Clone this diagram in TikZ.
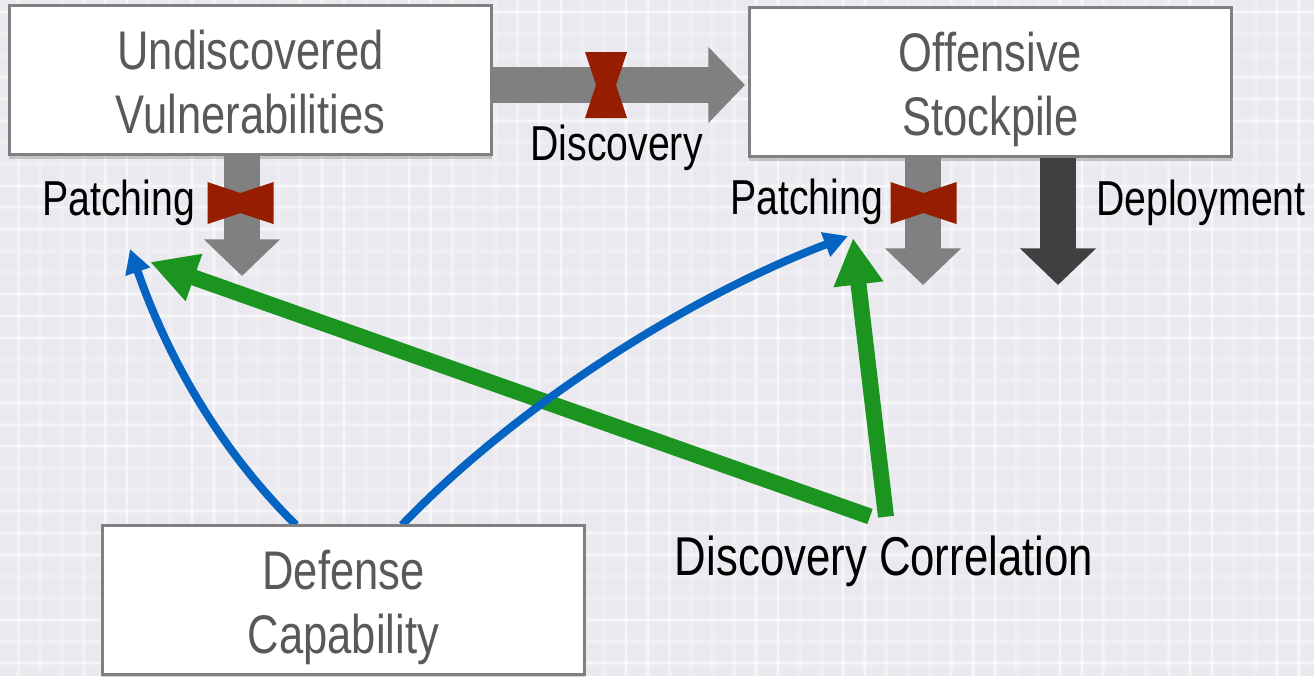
\documentclass[tikz,border=0pt]{standalone}
\usepackage{fontspec}
\setmainfont[FakeStretch=0.8]{Liberation Sans}
\usetikzlibrary{arrows.meta,shadows}
\definecolor{plaidbg}{HTML}{E9E9EF}
\definecolor{boxgrey}{HTML}{808080}
\definecolor{boxtext}{HTML}{595959}
\definecolor{valvered}{HTML}{961D00}
\definecolor{deploygrey}{HTML}{404040}
\definecolor{corrgreen}{HTML}{1C9420}
\definecolor{defblue}{HTML}{0563C1}
\tikzset{
  stockbox/.style={rectangle, draw=boxgrey, line width=2.25pt, fill=white, inner sep=0pt, minimum width=362pt, minimum height=112pt, align=center, text=boxtext, text height=88.5pt, text depth=9pt, font=\fontsize{40.8}{47.3}\selectfont, drop shadow={shadow xshift=0pt, shadow yshift=-3pt, opacity=0.35}},
  flowlabel/.style={text=black, inner sep=0pt, font=\fontsize{36.8}{42}\selectfont},
  bigcorrlabel/.style={flowlabel, font=\fontsize{41}{48}\selectfont},
  flowarrow/.style={draw=#1, line width=27pt, -{Triangle[length=27.5pt, width=55.5pt]}},
  corrarrow/.style={draw=corrgreen, line width=12pt, -{Triangle[length=35pt, width=35pt]}},
  defarrow/.style={draw=defblue, line width=6pt, -{Triangle[length=18pt, width=18.5pt]}},
  valve/.pic={\fill[valvered] (-33,-21) -- (0,-10) -- (33,-21) -- (33,21) -- (0,10) -- (-33,21) -- cycle;}
}
\begin{document}
\begin{tikzpicture}[x=0.75pt,y=-0.75pt]
\useasboundingbox (0,0) rectangle (1314,676);
\fill[plaidbg] (0,0) rectangle (1314,676);
\foreach \i in {0,...,60} {
  \pgfmathtruncatemacro{\k}{mod(\i,5)}
  \draw[white, line width=3.5pt, opacity=0.22] (\i*21.7+18.4,0) -- (\i*21.7+18.4,676);
  \ifnum\k=1\else\ifnum\k=2\else
    \draw[white, line width=1.3pt, opacity=0.55] (\i*21.7+18.4,0) -- (\i*21.7+18.4,676);
  \fi\fi
}
\foreach \i in {0,...,31} {
  \pgfmathtruncatemacro{\k}{mod(\i,5)}
  \draw[white, line width=3.5pt, opacity=0.22] (0,\i*21.7+12.2) -- (1314,\i*21.7+12.2);
  \ifnum\k=1\else\ifnum\k=2\else
    \draw[white, line width=1.3pt, opacity=0.55] (0,\i*21.7+12.2) -- (1314,\i*21.7+12.2);
  \fi\fi
}
\coordinate (discoveryTip) at (745,85);
\coordinate (patchLeftTip) at (242,276);
\coordinate (patchRightTip) at (923,285);
\coordinate (deployTip) at (1058,285);
\coordinate (defLeftStart) at (296,525);
\coordinate (defRightStart) at (402,525);
\coordinate (defLeftTip) at (130,249);
\coordinate (defRightTip) at (848,236);
\coordinate (corrLeftStart) at (870,516.5);
\coordinate (corrRightStart) at (886,516.7);
\coordinate (corrLeftTip) at (150,262);
\coordinate (corrRightTip) at (853,238);
\draw[defarrow] (defLeftStart) .. controls (225,455) and (170,365) .. (defLeftTip);
\draw[corrarrow] (corrLeftStart) -- (corrLeftTip);
\draw[corrarrow] (corrRightStart) -- (corrRightTip);
\draw[defarrow] (defRightStart) .. controls (510,412) and (680,300) .. (defRightTip);
\node [stockbox] (undiscovered) at (250.5,80) {Undiscovered\\Vulnerabilities};
\node [stockbox] (offensive) at (990.5,82) {Offensive\\Stockpile};
\node [stockbox] (defense) at (343.5,600) {Defense\\Capability};
\draw[flowarrow=boxgrey] (undiscovered.east |- discoveryTip) -- (discoveryTip);
\draw[flowarrow=boxgrey] (undiscovered.south -| patchLeftTip) -- (patchLeftTip);
\draw[flowarrow=boxgrey] (offensive.south -| patchRightTip) -- (patchRightTip);
\draw[flowarrow=deploygrey] (offensive.south -| deployTip) -- (deployTip);
\pic at (606,85) [rotate=90] {valve};
\pic at (240.5,203) {valve};
\pic at (923.5,203) {valve};
\node [flowlabel] (discoveryLabel) at (616.5,148) {Discovery};
\node [flowlabel] (patchLeftLabel) at (118.5,203) {Patching};
\node [flowlabel] (patchRightLabel) at (806.5,202) {Patching};
\node [flowlabel] (deployLabel) at (1201,203) {Deployment};
\node [bigcorrlabel] (correlationLabel) at (884,561) {Discovery Correlation};
\end{tikzpicture}
\end{document}
